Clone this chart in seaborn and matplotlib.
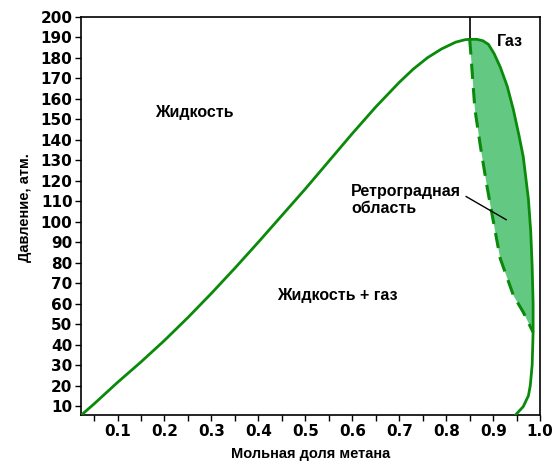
import seaborn as sns
import matplotlib.pyplot as plt
from matplotlib.ticker import MultipleLocator

# bubble curve (liquid boundary)
bubble_x = [0.02, 0.05, 0.1, 0.15, 0.2, 0.25, 0.3, 0.35, 0.4, 0.45, 0.5, 0.55, 0.6,
            0.65, 0.7, 0.73, 0.76, 0.79, 0.82, 0.84, 0.85]
bubble_p = [5, 11, 21.5, 31.5, 42, 53.2, 65, 77.3, 90, 103, 116, 129.5, 143,
            156, 168, 174.5, 180, 184.3, 187.6, 188.8, 189]

# dew curve (gas boundary)
dew_x = [0.85, 0.865, 0.878, 0.89, 0.902, 0.915, 0.93, 0.943, 0.955, 0.964, 0.975,
         0.98, 0.983, 0.985, 0.985, 0.983, 0.979, 0.975, 0.964, 0.945]
dew_p = [189, 189, 188.3, 186.5, 182, 175.5, 166, 154.6, 142, 131.7, 111,
         95, 78, 60, 46, 30, 20, 15, 9.7, 5]

# dashed boundary of the retrograde region
retro_x = [0.85, 0.853, 0.861, 0.874, 0.887, 0.898, 0.915, 0.943, 0.964, 0.985]
retro_p = [189, 180, 155, 135, 117, 103, 82, 64, 55.8, 46]

line_color = "#0a8a0a"
fill_color = "#63c882"

sns.set_style("ticks")
plt.rcParams["font.family"] = ["DejaVu Sans"]
plt.rcParams["text.color"] = "black"
plt.rcParams["axes.labelcolor"] = "black"
plt.rcParams["xtick.color"] = "black"
plt.rcParams["ytick.color"] = "black"

fig = plt.figure(figsize=(5.54, 4.66), dpi=100)
ax = fig.add_axes([0.146, 0.109, 0.829, 0.855])

# retrograde region: between dashed line and upper part of dew curve
upper_x = dew_x[:15]
upper_p = dew_p[:15]
ax.fill(retro_x + upper_x[::-1], retro_p + upper_p[::-1],
        color=fill_color, lw=0, zorder=1)

sns.lineplot(x=bubble_x, y=bubble_p, sort=False, estimator=None,
             color=line_color, lw=2, ax=ax, zorder=3)
sns.lineplot(x=dew_x, y=dew_p, sort=False, estimator=None,
             color=line_color, lw=2, ax=ax, zorder=3)
ax.plot(retro_x, retro_p, color=line_color, lw=2.2, dashes=(5, 3), zorder=3)

# critical composition line
ax.plot([0.85, 0.85], [189, 200], color="black", lw=1.2, zorder=2)

ax.set_xlim(0.022, 1.0)
ax.set_ylim(5.5, 200)
ax.xaxis.set_minor_locator(MultipleLocator(0.05))
ax.set_xticks([0.1, 0.2, 0.3, 0.4, 0.5, 0.6, 0.7, 0.8, 0.9, 1.0])
ax.set_yticks(list(range(10, 201, 10)))
ax.tick_params(axis="both", which="both", direction="out", length=4, width=1,
               labelsize=11, pad=2)
for lab in ax.get_xticklabels() + ax.get_yticklabels():
    lab.set_fontweight("bold")
for sp in ax.spines.values():
    sp.set_visible(True)
    sp.set_linewidth(1.2)
    sp.set_color("black")

lab_font = dict(family=["Liberation Sans", "DejaVu Sans"], fontweight="bold")
ax.set_xlabel("Мольная доля метана", fontsize=10.5, labelpad=6, **lab_font)
ax.set_ylabel("Давление, атм.", fontsize=10.5, labelpad=6, y=0.52, **lab_font)

txt = dict(family=["Liberation Sans", "DejaVu Sans"], fontweight="bold", fontsize=11.5)
ax.text(0.264, 153.5, "Жидкость", ha="center", va="center", **txt)
ax.text(0.569, 64, "Жидкость + газ", ha="center", va="center", **txt)
ax.text(0.935, 188, "Газ", ha="center", va="center", **txt)
ax.text(0.598, 110.5, "Ретроградная\nобласть", ha="left", va="center",
        linespacing=1.15, **txt)
ax.plot([0.842, 0.928], [112.3, 100.9], color="black", lw=1, zorder=4)

fig.savefig("out.png", dpi=100)
